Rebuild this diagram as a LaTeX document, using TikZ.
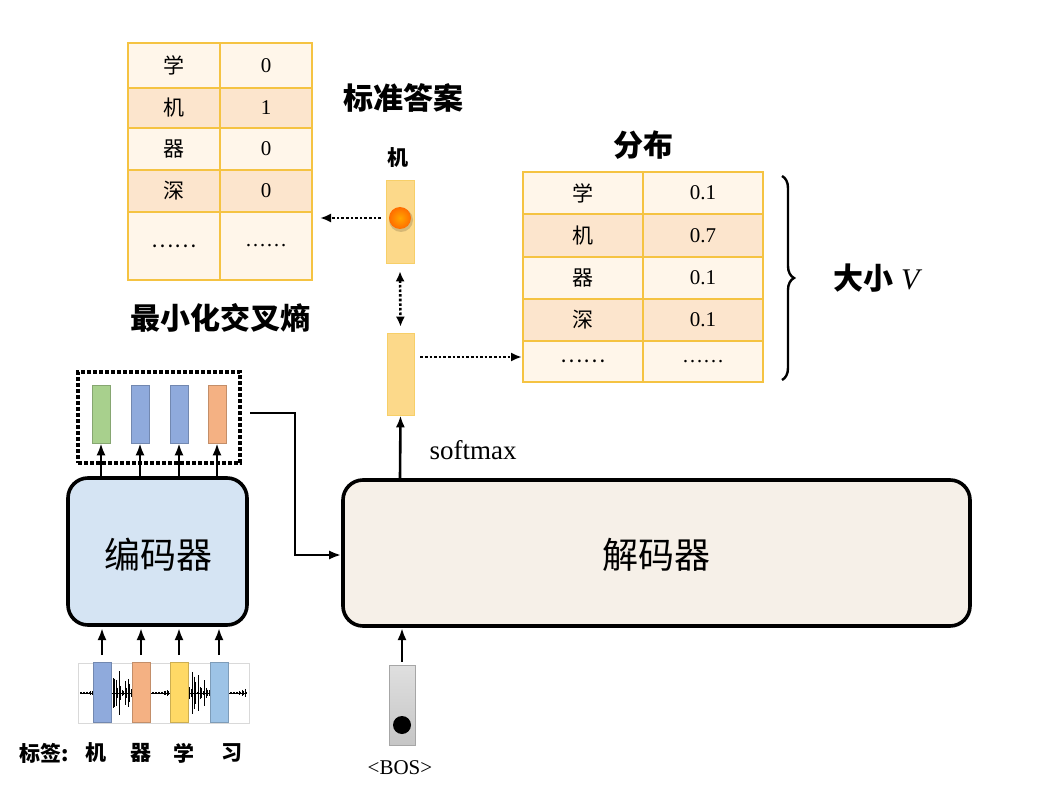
\documentclass[tikz,border=0pt]{standalone}
\usepackage{fontspec}
\setmainfont{Liberation Serif}
\newfontfamily\cjk{Noto Sans CJK SC}
\usetikzlibrary{arrows.meta,decorations.pathreplacing,shadows,calc}
\begin{document}
\begin{tikzpicture}[x=1pt,y=-1pt,
  tbl/.style={font=\fontsize{21}{23}\selectfont},
  vec/.style={draw=gold!80,fill=vecfill,line width=0.6pt},
  arr/.style={-{Latex[length=12pt,width=9pt]},line width=2.6pt},
  darr/.style={-{Latex[length=11pt,width=9pt]},line width=2.6pt,dotted},
  bigbox/.style={draw=black,line width=3.6pt,rounded corners=20pt}]
\definecolor{gold}{HTML}{F5C342}
\definecolor{rowA}{HTML}{FFF6EA}
\definecolor{rowB}{HTML}{FCE5CD}
\definecolor{vecfill}{HTML}{FCD98A}
\definecolor{vgreen}{HTML}{A8D08D}
\definecolor{vblue}{HTML}{8FAADC}
\definecolor{vorange}{HTML}{F4B183}
\definecolor{vyellow}{HTML}{FFD966}
\definecolor{vlblue}{HTML}{9DC3E6}
\definecolor{decfill}{HTML}{F6F0E8}
\definecolor{encfill}{HTML}{D5E4F3}
\useasboundingbox (0,0) rectangle (1037,805);
\fill[white] (0,0) rectangle (1037,805);
% ---- top-left table
\foreach \ya/\yb/\c/\a/\b in {43/88/rowA/学/0,88/128/rowB/机/1,128/170/rowA/器/0,170/212/rowB/深/0,212/280/rowA/……/……}{
  \fill[\c] (128,\ya) rectangle (312,\yb);
  \draw[gold,line width=1.5pt] (128,\ya) rectangle (220,\yb) (220,\ya) rectangle (312,\yb);
  \node[tbl] at (174,{(\ya+\yb)/2}) {\cjk\a};
  \node[tbl] at (266,{(\ya+\yb)/2}) {\b};
}
\node (gt) [font=\cjk\bfseries\fontsize{30}{32}\selectfont] at (403,98) {标准答案};
\node (ce) [font=\cjk\bfseries\fontsize{30}{32}\selectfont] at (220,318) {最小化交叉熵};
% ---- right table
\foreach \ya/\yb/\c/\a/\b in {172/214/rowA/学/0.1,214/257/rowB/机/0.7,257/299/rowA/器/0.1,299/341/rowB/深/0.1,341/382/rowA/……/……}{
  \fill[\c] (523,\ya) rectangle (763,\yb);
  \draw[gold,line width=1.5pt] (523,\ya) rectangle (643,\yb) (643,\ya) rectangle (763,\yb);
  \node[tbl] at (583,{(\ya+\yb)/2}) {\cjk\a};
  \node[tbl] at (703,{(\ya+\yb)/2}) {\b};
}
\node (dist) [font=\cjk\bfseries\fontsize{30}{32}\selectfont] at (643,145) {分布};
\draw[line width=2.4pt,decorate,decoration={brace,amplitude=12pt}] (782,176) -- (782,380);
\node (vsz) [font=\fontsize{30}{32}\selectfont] at (878,278) {{\cjk\bfseries 大小} \textit{V}};
% ---- output vectors
\node (ji) [font=\cjk\bfseries\fontsize{21}{23}\selectfont] at (398,158) {机};
\node (v1) [vec,minimum width=28pt,minimum height=83pt,inner sep=0] at (400,221.5) {};
\fill[black,opacity=0.15] (401,220) circle (12);
\shade[inner color=orange!70!yellow,outer color=orange!85!red] (400,218) circle (11);
\node (v2) [vec,minimum width=27pt,minimum height=82pt,inner sep=0] at (400.5,374) {};
\draw[darr,{Latex[length=10pt,width=9pt]}-{Latex[length=10pt,width=9pt]}] ($(v1.south)+(0,8)$) -- ($(v2.north)+(0,-6)$);
\draw[darr] ($(v1.west)+(-5,-3.5)$) -- (320,218);
\draw[darr] ($(v2.east)+(6,-17)$) -- (522,357);
% ---- decoder
\node (dec) [bigbox,fill=decfill,minimum width=627pt,minimum height=146pt] at (656.5,553) {};
\node [font=\cjk\fontsize{36}{38}\selectfont] at (656,555) {解码器};
\draw[arr] (400,478) -- (v2.south);
\node (sm) [font=\fontsize{27}{29}\selectfont] at (473,450) {softmax};
% ---- encoder
\node (enc) [bigbox,fill=encfill,minimum width=179pt,minimum height=147pt] at (157.5,551.5) {};
\node [font=\cjk\fontsize{36}{38}\selectfont] at (158,555) {编码器};
\node (dbox) [draw,line width=4pt,dotted,minimum width=162pt,minimum height=91pt] at (159,417.5) {};
\foreach \x/\c [count=\i] in {101/vgreen,140/vblue,179/vblue,217/vorange}{
  \node (e\i) [draw=\c!80!black,line width=0.5pt,fill=\c,minimum width=18pt,minimum height=58pt,inner sep=0] at (\x,414) {};
  \draw[arr] (\x,478) -- (e\i.south);
}
\coordinate (bend2) at (295,555);
\draw[arr] ($(dbox.east)+(8,-4.5)$) -| (bend2) -- (dec.west |- bend2);
% ---- waveform
\draw[gray!30,line width=0.5pt] (78,663) rectangle (249,723);
\pgfmathsetseed{11}
\foreach \i in {80,81.5,...,247}{
  \pgfmathsetmacro{\env}{1+22*(abs(sin((\i-80)*2.4)))^3*rnd}
  \draw[line width=0.7pt] (\i,693-\env) -- (\i,693+\env);
}
\draw[line width=0.7pt] (80,693) -- (247,693);
\foreach \x/\c [count=\i] in {102/vblue,141/vorange,179/vyellow,219/vlblue}{
  \node (w\i) [draw=\c!80!black,line width=0.5pt,fill=\c,minimum width=18pt,minimum height=60pt,inner sep=0] at (\x,692) {};
  \draw[arr] (\x,655) -- (\x,628);
}
\node (lab) [font=\cjk\bfseries\fontsize{21}{23}\selectfont,anchor=west] at (16,753) {标签:};
\foreach \x/\t in {96/机,141/器,184/学,232/习}{\node [font=\cjk\bfseries\fontsize{21}{23}\selectfont] at (\x,753) {\t};}
% ---- BOS
\node (bos) [draw=gray!70,line width=0.5pt,top color=gray!25,bottom color=gray!45,minimum width=26pt,minimum height=80pt,inner sep=0] at (402,705) {};
\fill[black] (402,725) circle (9);
\draw[arr] ($(bos.north)+(0,-3)$) -- (402,628);
\node (bost) [font=\fontsize{21}{23}\selectfont] at (400,768) {<BOS>};
\end{tikzpicture}
\end{document}
